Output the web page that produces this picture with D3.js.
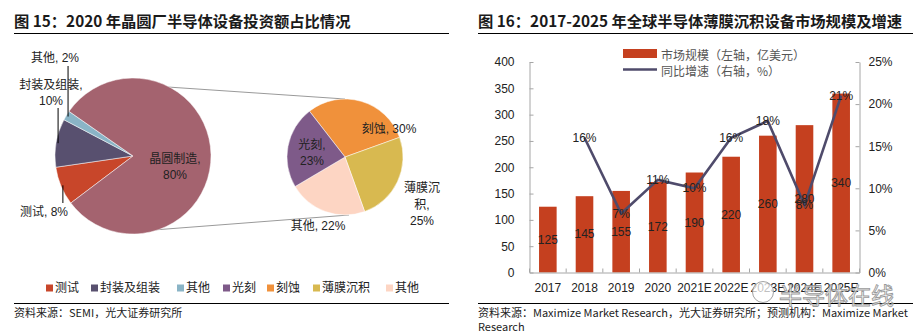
<!DOCTYPE html>
<meta charset="utf-8">
<script src="https://d3js.org/d3.v7.min.js"></script>
<style>
  body { margin: 0; background: #fff; }
  text { font-family: "Liberation Sans", Arial, "Noto Sans CJK SC", sans-serif; }
  .cjk { font-family: "Noto Sans CJK SC", sans-serif; }
</style>
<body>
<script>

// ---- left: pie of pie ----
var mainLabels = ["测试", "封装及组装", "其他", "晶圆制造"];
var mainValues = [8, 10, 2, 80];
var subLabels = ["刻蚀", "薄膜沉积", "其他", "光刻"];
var subValues = [30, 25, 22, 23];
var legendLabels = ["测试", "封装及组装", "其他", "光刻", "刻蚀", "薄膜沉积", "其他"];

// ---- right: thin film deposition market ----
var years = ["2017", "2018", "2019", "2020", "2021E", "2022E", "2023E", "2024E", "2025E"];
var marketSize = [125, 145, 155, 172, 190, 220, 260, 280, 340];
var growth = [null, 16, 7, 11, 10, 16, 18, 8, 21];
var leftTicks = [0, 50, 100, 150, 200, 250, 300, 350, 400];
var rightTicks = [0, 5, 10, 15, 20, 25];

var mainColors = ["#c8462a", "#58506f", "#8ab4c6", "#a4636f"];
var subColors = ["#f0913b", "#d8b950", "#fdd5c3", "#7e5a89"];
var legendColors = mainColors.slice(0, 3).concat(["#7e5a89", "#f0913b", "#d8b950", "#fdd5c3"]);
var barColor = "#c5401f", lineColor = "#4f4b6b", axisColor = "#a6a6a6";

var width = 923, height = 334;
var svg = d3.select("body").append("svg")
    .attr("width", width)
    .attr("height", height);

svg.append("rect").attr("width", width).attr("height", height).attr("fill", "#fff");

// titles, rules and sources
function panelFrame(x0, x1, title, sources) {
    svg.append("text").attr("class", "cjk")
        .attr("x", x0).attr("y", 20)
        .attr("dominant-baseline", "central")
        .style("font-size", "15.3px").style("font-weight", "bold").attr("fill", "#1a1a1a")
        .text(title);
    svg.append("line").attr("x1", x0).attr("x2", x1).attr("y1", 33.5).attr("y2", 33.5)
        .attr("stroke", "#000").attr("stroke-width", 1);
    svg.append("line").attr("x1", x0).attr("x2", x1).attr("y1", 303.5).attr("y2", 303.5)
        .attr("stroke", "#000").attr("stroke-width", 1);
    sources.forEach(function(s, i) {
        svg.append("text").attr("class", "cjk")
            .attr("x", x0).attr("y", 312 + i * 14)
            .attr("dominant-baseline", "central")
            .style("font-size", "11px").attr("fill", "#222")
            .text(s);
    });
}
panelFrame(14, 449, "图 15：2020 年晶圆厂半导体设备投资额占比情况", ["资料来源：SEMI，光大证券研究所"]);
panelFrame(478, 913, "图 16：2017-2025 年全球半导体薄膜沉积设备市场规模及增速",
    ["资料来源：Maximize Market Research，光大证券研究所；预测机构：Maximize Market", "Research"]);

// ---------- pie of pie ----------
var deg = Math.PI / 180;
var mainC = [133, 156], mainR = 78;
var subC = [345, 157], subR = 58;

var mainPie = d3.pie().sort(null).startAngle(232.9 * deg).endAngle(592.9 * deg)(mainValues);
var subPie = d3.pie().sort(null).startAngle(-37.8 * deg).endAngle(322.2 * deg)(subValues);

function arcPoint(c, r, a) { return [c[0] + r * Math.sin(a), c[1] - r * Math.cos(a)]; }

// connector lines between the two pies
var cTop = arcPoint(mainC, mainR * 0.93, 15 * deg), cBot = arcPoint(mainC, mainR * 0.98, 166 * deg);
svg.append("line").attr("x1", cTop[0]).attr("y1", cTop[1]).attr("x2", subC[0]).attr("y2", subC[1] - subR)
    .attr("stroke", "#9a9a9a").attr("stroke-width", 1);
svg.append("line").attr("x1", cBot[0]).attr("y1", cBot[1]).attr("x2", subC[0] + 4).attr("y2", subC[1] + subR)
    .attr("stroke", "#9a9a9a").attr("stroke-width", 1);

svg.append("g").attr("transform", "translate(" + mainC + ")")
    .selectAll("path").data(mainPie).enter().append("path")
    .attr("d", d3.arc().innerRadius(0).outerRadius(mainR))
    .attr("fill", function(d, i) { return mainColors[i]; })
    .attr("stroke", "#fff").attr("stroke-width", 0.5);

svg.append("g").attr("transform", "translate(" + subC + ")")
    .selectAll("path").data(subPie).enter().append("path")
    .attr("d", d3.arc().innerRadius(0).outerRadius(subR))
    .attr("fill", function(d, i) { return subColors[i]; })
    .attr("stroke", "#fff").attr("stroke-width", 0.5);

function label(x, y, lines, gap) {
    var t = svg.append("text").attr("text-anchor", "middle")
        .style("font-size", "12px").attr("fill", "#222");
    lines.forEach(function(s, i) {
        t.append("tspan").attr("x", x).attr("y", y + i * (gap || 16))
            .attr("dominant-baseline", "central").text(s);
    });
}

// leader lines for the three small slices (vertical, from slice middle)
var leaderEnds = [203, 108, 66];
[0, 1, 2].forEach(function(i) {
    var d = mainPie[i];
    var p = arcPoint(mainC, mainR - 2, (d.startAngle + d.endAngle) / 2);
    svg.append("line").attr("x1", p[0]).attr("x2", p[0]).attr("y1", p[1]).attr("y2", leaderEnds[i])
        .attr("stroke", "#000").attr("stroke-width", 1);
});

label(44, 212, [mainLabels[0] + ", " + mainValues[0] + "%"]);
label(51, 85, [mainLabels[1] + ",", mainValues[1] + "%"]);
label(55, 58, [mainLabels[2] + ", " + mainValues[2] + "%"]);
label(175, 159, [mainLabels[3] + ",", mainValues[3] + "%"]);

label(389, 129, [subLabels[0] + ", " + subValues[0] + "%"]);
label(422, 188, ["薄膜沉", "积,", subValues[1] + "%"], 16.5);
label(318, 226, [subLabels[2] + ", " + subValues[2] + "%"]);
label(312, 145, [subLabels[3] + ",", subValues[3] + "%"]);

// legend under the pies
var legendX = [46, 91, 177, 223, 267, 313, 386];
var lg = svg.append("g").selectAll("g").data(legendLabels).enter().append("g")
    .attr("transform", function(d, i) { return "translate(" + legendX[i] + ",288)"; });
lg.append("rect").attr("x", 0).attr("y", -3.5).attr("width", 7).attr("height", 7)
    .attr("fill", function(d, i) { return legendColors[i]; });
lg.append("text").attr("x", 9).attr("dominant-baseline", "central")
    .style("font-size", "12px").attr("fill", "#222")
    .text(function(d) { return d; });

// ---------- bar + line chart ----------
var x = d3.scaleBand().domain(years).range([529.5, 859.5]).paddingInner(0.52).paddingOuter(0.26);
var yL = d3.scaleLinear().domain([0, 400]).range([272.5, 62]);
var yR = d3.scaleLinear().domain([0, 25]).range([272.5, 62]);

var chart = svg.append("g");

chart.selectAll(".bar").data(marketSize).enter().append("rect")
    .attr("class", "bar")
    .attr("x", function(d, i) { return x(years[i]); })
    .attr("width", x.bandwidth())
    .attr("y", function(d) { return yL(d); })
    .attr("height", function(d) { return yL(0) - yL(d); })
    .attr("fill", barColor);

var axisL = chart.append("g").attr("transform", "translate(529.5,0)")
    .call(d3.axisLeft(yL).tickValues(leftTicks).tickSize(-4).tickSizeOuter(0).tickPadding(15));
var axisR = chart.append("g").attr("transform", "translate(859.5,0)")
    .call(d3.axisRight(yR).tickValues(rightTicks).tickSize(-4).tickSizeOuter(0).tickPadding(9)
        .tickFormat(function(d) { return d + "%"; }));
var axisB = chart.append("g").attr("transform", "translate(0,272.5)")
    .call(d3.axisBottom(x).tickSize(0).tickPadding(11));

[axisL, axisR, axisB].forEach(function(a) {
    a.select(".domain").attr("stroke", axisColor);
    a.selectAll(".tick line").attr("stroke", axisColor);
    a.selectAll("text").style("font-size", "12px").attr("fill", "#222").attr("font-family", null);
});

// category separators pointing up from the baseline
chart.append("g").selectAll("line").data(d3.range(years.length + 1)).enter().append("line")
    .attr("x1", function(i) { return 529.5 + i * x.step(); })
    .attr("x2", function(i) { return 529.5 + i * x.step(); })
    .attr("y1", 272.5).attr("y2", 268.5)
    .attr("stroke", axisColor);

// growth line
var pts = growth.map(function(g, i) { return { g: g, yr: years[i] }; })
    .filter(function(d) { return d.g !== null; });
var line = d3.line()
    .x(function(d) { return x(d.yr) + x.bandwidth() / 2; })
    .y(function(d) { return yR(d.g); });
chart.append("path").datum(pts).attr("d", line)
    .attr("fill", "none").attr("stroke", lineColor).attr("stroke-width", 2.6);

// value labels inside bars
chart.selectAll(".blabel").data(marketSize).enter().append("text")
    .attr("class", "blabel")
    .attr("x", function(d, i) { return x(years[i]) + x.bandwidth() / 2; })
    .attr("y", function(d) { return yL(d / 2); })
    .attr("text-anchor", "middle").attr("dominant-baseline", "central")
    .style("font-size", "12px").attr("fill", "#222")
    .text(function(d) { return d; });

// growth labels on the points
chart.selectAll(".glabel").data(pts).enter().append("text")
    .attr("class", "glabel")
    .attr("x", function(d) { return x(d.yr) + x.bandwidth() / 2; })
    .attr("y", function(d) { return yR(d.g); })
    .attr("text-anchor", "middle").attr("dominant-baseline", "central")
    .style("font-size", "12px").attr("fill", "#222")
    .text(function(d) { return d.g + "%"; });

// legend
var legend = svg.append("g").attr("class", "cjk");
legend.append("rect").attr("x", 623).attr("y", 49).attr("width", 34).attr("height", 9).attr("fill", barColor);
legend.append("line").attr("x1", 623).attr("x2", 657).attr("y1", 69.5).attr("y2", 69.5)
    .attr("stroke", lineColor).attr("stroke-width", 2.5);
legend.selectAll("text").data(["市场规模（左轴，亿美元）", "同比增速（右轴，%）"]).enter().append("text")
    .attr("class", "cjk")
    .attr("x", 661).attr("y", function(d, i) { return 54 + i * 16; })
    .attr("dominant-baseline", "central")
    .style("font-size", "12px").attr("fill", "#555")
    .text(function(d) { return d; });

// watermark
var wm = svg.append("g").attr("opacity", 0.9);
wm.append("circle").attr("cx", 763).attr("cy", 292).attr("r", 10.5)
    .attr("fill", "#fff").attr("fill-opacity", 0.8).attr("stroke", "#999");
wm.append("text").attr("class", "cjk")
    .attr("x", 779).attr("y", 294).attr("dominant-baseline", "central")
    .style("font-size", "23px")
    .attr("fill", "#fff").attr("fill-opacity", 0.85)
    .attr("stroke", "#8f8f8f").attr("stroke-width", 0.9)
    .text("半导体在线");

</script>
</body>
